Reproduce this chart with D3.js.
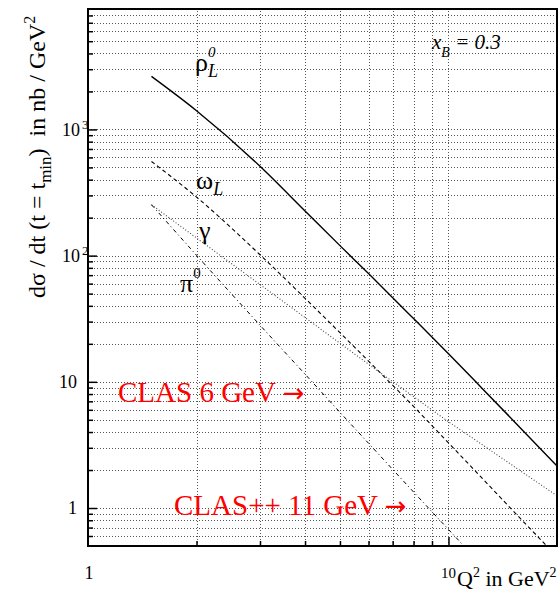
<!DOCTYPE html>
<html>
<head>
<meta charset="utf-8">
<script src="https://cdn.jsdelivr.net/npm/d3@7"></script>
<style>
  html, body { margin: 0; padding: 0; background: #fff; }
  svg { display: block; font-family: "Liberation Serif", "Times New Roman", serif; }
  text { white-space: pre; }
</style>
</head>
<body>
<svg id="chart" width="558" height="597"></svg>
<script>
// Longitudinal cross sections at t = t_min versus Q^2 (x_B = 0.3)
const q2Rho   = [1.5, 2, 3, 4, 5, 6, 8, 10, 12, 15, 20];
const rhoL    = [2630, 1406, 511, 226, 120, 72, 31.7, 16.7, 9.77, 5.06, 2.15];

const q2Omega = [1.5, 2, 3, 4, 5, 6, 8, 10, 12, 15, 19];
const omegaL  = [557, 291, 101.6, 45.9, 24.5, 14.6, 6.38, 3.28, 1.90, 0.97, 0.48];

const q2Gamma = [1.5, 2, 3, 4, 5, 6, 8, 10, 12, 15, 20];
const gammaV  = [253, 138, 59.0, 32.3, 20.2, 13.8, 7.64, 4.83, 3.39, 2.19, 1.25];

const q2Pi0   = [1.5, 2, 3, 4, 5, 6, 8, 10, 11];
const pi0     = [253, 100.7, 28.1, 11.5, 5.73, 3.26, 1.34, 0.676, 0.505];

// axis ranges and tick values
const xDomain = [1, 20];
const yDomain = [0.5, 9000];
const xTickValues = [2, 3, 4, 5, 6, 7, 8, 9, 10];
const yTickValues = [0.6, 0.7, 0.8, 0.9, 1, 2, 3, 4, 5, 6, 7, 8, 9,
                     10, 20, 30, 40, 50, 60, 70, 80, 90,
                     100, 200, 300, 400, 500, 600, 700, 800, 900,
                     1000, 2000, 3000, 4000, 5000, 6000, 7000, 8000];
const yMajor = [1, 10, 100, 1000];
const yLabelBase = ["1", "10", "10", "10"];
const yLabelExp  = ["", "", "2", "3"];
const xLabelValues = [1, 10];
const xLabelText   = ["1", "10"];

const svg = d3.select("#chart");
const margin = {left: 88, top: 9, right: 1, bottom: 51};
const W = 558, H = 597;
const w = W - margin.left - margin.right;
const h = H - margin.top - margin.bottom;

const x = d3.scaleLog().domain(xDomain).range([0, w]);
const y = d3.scaleLog().domain(yDomain).range([h, 0]);

const g = svg.append("g").attr("transform", `translate(${margin.left},${margin.top})`);

svg.append("defs").append("clipPath").attr("id", "plotClip")
  .append("rect").attr("width", w).attr("height", h);

// dotted grid
const gy = g.append("g").attr("class", "grid")
  .call(d3.axisLeft(y).tickValues(yTickValues).tickSize(-w).tickFormat(""));
const gx = g.append("g").attr("class", "grid").attr("transform", `translate(0,${h})`)
  .call(d3.axisBottom(x).tickValues(xTickValues).tickSize(-h).tickFormat(""));
[gx, gy].forEach(sel => {
  sel.select(".domain").remove();
  sel.selectAll("line")
    .attr("stroke", "#555")
    .attr("stroke-width", 1)
    .attr("stroke-dasharray", "1,2")
    .attr("shape-rendering", "crispEdges");
});

// inward tick marks
const ty = g.append("g")
  .call(d3.axisRight(y).tickValues(yTickValues).tickSize(5).tickFormat(""));
ty.select(".domain").remove();
ty.selectAll(".tick line")
  .attr("x2", d => yMajor.includes(d) ? 9 : 5)
  .attr("stroke", "#000").attr("stroke-width", 1.5);

const tx = g.append("g").attr("transform", `translate(0,${h})`)
  .call(d3.axisTop(x).tickValues(xTickValues).tickSize(5).tickFormat(""));
tx.select(".domain").remove();
tx.selectAll(".tick line")
  .attr("y2", d => d === 10 ? -9 : -5)
  .attr("stroke", "#000").attr("stroke-width", 1.5);

// curves
const line = d3.line()
  .x(d => x(d[0]))
  .y(d => y(d[1]))
  .curve(d3.curveMonotoneX);

const curves = g.append("g").attr("clip-path", "url(#plotClip)");
const series = [
  {q: q2Rho,   v: rhoL,   dash: null,      color: "#000", width: 1.4},
  {q: q2Omega, v: omegaL, dash: "4,3",     color: "#000", width: 1.1},
  {q: q2Gamma, v: gammaV, dash: "1,2",     color: "#444", width: 1.1},
  {q: q2Pi0,   v: pi0,    dash: "4,3,1,3", color: "#000", width: 1.0}
];
series.forEach(s => {
  curves.append("path")
    .datum(d3.zip(s.q, s.v))
    .attr("d", line)
    .attr("fill", "none")
    .attr("stroke", s.color)
    .attr("stroke-width", s.width)
    .attr("stroke-dasharray", s.dash);
});

// frame
g.append("rect").attr("width", w).attr("height", h)
  .attr("fill", "none").attr("stroke", "#000").attr("stroke-width", 2);

// y tick labels
yMajor.forEach((v, i) => {
  const t = g.append("text")
    .attr("y", y(v)).attr("dy", "0.35em")
    .attr("font-size", 18).attr("fill", "#000");
  if (yLabelExp[i]) {
    t.attr("x", -26).attr("text-anchor", "start");
    t.append("tspan").text(yLabelBase[i]);
    t.append("tspan").attr("dx", 2).attr("dy", -7).attr("font-size", 13).text(yLabelExp[i]);
  } else {
    t.attr("x", -11).attr("text-anchor", "end").text(yLabelBase[i]);
  }
});

// x tick labels
xLabelValues.forEach((v, i) => {
  g.append("text")
    .attr("x", x(v) + (i === 0 ? 1 : 0)).attr("y", h + (i === 0 ? 33 : 32))
    .attr("text-anchor", "middle")
    .attr("font-size", i === 0 ? 18 : 15)
    .text(xLabelText[i]);
});

// x axis title
const xt = svg.append("text").attr("x", 457).attr("y", 586).attr("font-size", 22);
xt.append("tspan").text("Q");
xt.append("tspan").attr("dy", -9).attr("font-size", 14).text("2");
xt.append("tspan").attr("dy", 9).text(" in GeV");
xt.append("tspan").attr("dy", -9).attr("font-size", 14).text("2");

// y axis title
const yt = svg.append("text")
  .attr("transform", "translate(45,298) rotate(-90)")
  .attr("font-size", 24);
yt.append("tspan").text("d\u03C3 / dt (t = t");
yt.append("tspan").attr("dy", 6).attr("font-size", 17).text("min");
yt.append("tspan").attr("dy", -6).text(")  in nb / GeV");
yt.append("tspan").attr("dy", -10).attr("font-size", 16).text("2");

// x_B annotation
const xb = svg.append("text").attr("x", 432).attr("y", 49)
  .attr("font-size", 21).attr("font-style", "italic");
xb.append("tspan").text("x");
xb.append("tspan").attr("dy", 8).attr("font-size", 14).text("B");
xb.append("tspan").attr("dy", -8).text(" = 0.3");

// curve labels
function label(px, py, main, sup, sub, supItalic) {
  const t = svg.append("text").attr("x", px).attr("y", py).attr("font-size", 26).text(main);
  const bb = t.node().getComputedTextLength();
  if (sup) svg.append("text").attr("x", px + bb).attr("y", py - 14)
    .attr("font-size", 15).attr("font-style", supItalic ? "italic" : "normal").text(sup);
  if (sub) svg.append("text").attr("x", px + bb).attr("y", py + 6)
    .attr("font-size", 18).attr("font-style", "italic").text(sub);
}
label(195, 71, "\u03C1", "0", "L", true);
label(196, 189, "\u03C9", null, "L");
label(199, 239, "\u03B3");
label(180, 292, "\u03C0", "0", null, false);

// beam energy reach markers
function reach(px, py, txt) {
  const t = svg.append("text").attr("x", px).attr("y", py).attr("font-size", 29)
    .attr("fill", "#ff0000");
  t.append("tspan").text(txt + " ");
  t.append("tspan").attr("font-family", "DejaVu Sans").attr("font-size", 26).text("\u2192");
}
reach(118, 402, "CLAS 6 GeV");
reach(174, 515, "CLAS++ 11 GeV");
</script>
</body>
</html>
